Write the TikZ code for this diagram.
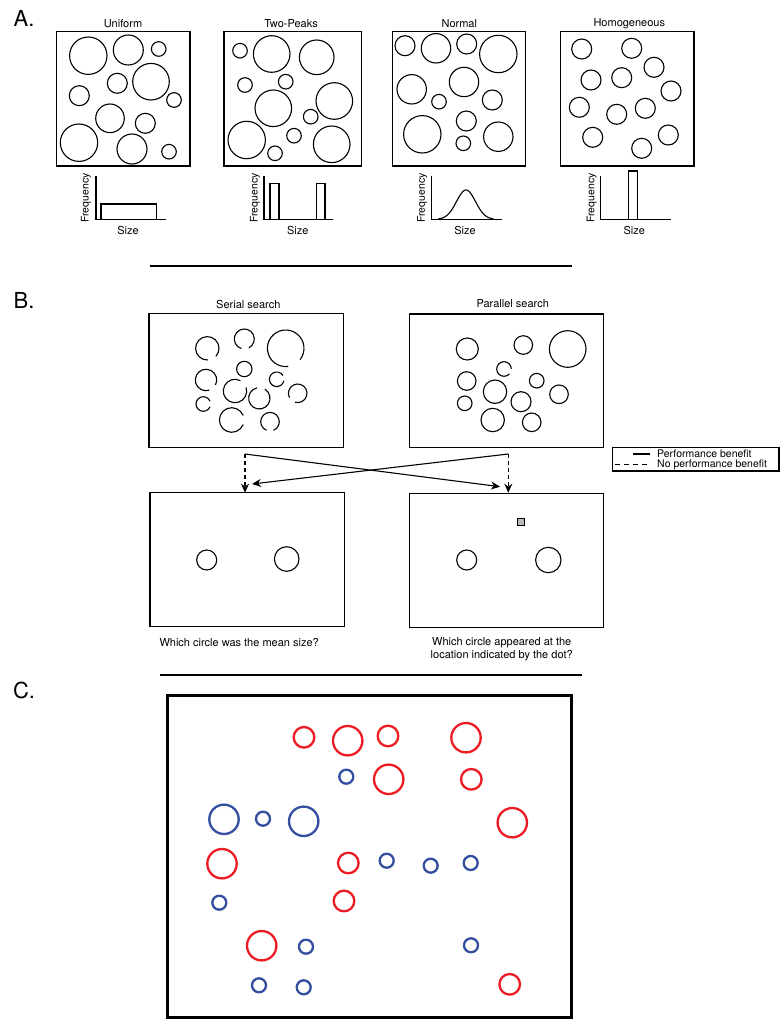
\documentclass[tikz,border=0pt]{standalone}
\usepackage{fontspec}
\setmainfont{TeX Gyre Heros}
\usetikzlibrary{arrows.meta}
\definecolor{cred}{RGB}{237,28,36}
\definecolor{cblue}{RGB}{52,78,160}
\newcommand\gapcirc[4]{\draw[ln] (#1,#2) ++({#4+22}:#3pt) arc[start angle={#4+22}, end angle={#4+338}, radius=#3pt];}
\begin{document}
\begin{tikzpicture}[x=1pt,y=-1pt,
  ln/.style={line width=1.1pt},
  ttl/.style={font=\fontsize{11}{13}\selectfont, inner sep=0pt},
  lgt/.style={font=\fontsize{10.5}{12}\selectfont, inner sep=0pt},
  lbl/.style={font=\fontsize{22}{26}\selectfont, inner sep=0pt},
  axl/.style={font=\fontsize{10.5}{12}\selectfont, inner sep=0pt},
  cr/.style={draw=cred, line width=2.3pt},
  cb/.style={draw=cblue, line width=2.3pt},
  arr/.style={line width=1.1pt, -{Stealth[length=9pt,width=8pt]}},
  darr/.style={arr, dash pattern=on 4pt off 3pt},
]
\useasboundingbox (0,0) rectangle (780,1019);
\fill[white] (0,0) rectangle (780,1019);

% ---------------- Panel A ----------------
\node[lbl] (labA) at (24,18) {A.};

% Uniform
\node[ttl] (tU) at (123,24) {Uniform};
\draw[ln] (56.7,31.7) rectangle (190,166);
\foreach \x/\y/\r in {88.3/55.7/18.7, 128.3/50/15, 158.7/49/7.3, 117.3/83.3/10, 151/81.7/18.3,
  79.3/95.7/10, 174/100/7.3, 110/118.3/14.3, 145.3/123.3/10, 79/142.7/18.7, 132/149/15, 169/151.7/7.3}
  \draw[ln] (\x,\y) circle[radius=\r pt];
\draw[ln] (96,176) -- (96,219.3) -- (165.7,219.3);
\draw[ln] (101,219.3) -- (101,204) -- (156.7,204) -- (156.7,219.3);
\node[axl, rotate=90] (fU) at (86,198) {Frequency};
\node[ttl] (sU) at (128,230.7) {Size};

% Two-Peaks
\node[ttl] (tT) at (291,24) {Two-Peaks};
\draw[ln] (224,31.7) rectangle (361.7,166);
\foreach \x/\y/\r in {240/50.7/7.3, 271.7/54/18.3, 316.7/57.3/17.3, 245/85/7.3, 285.7/81.7/7.3,
  334.3/101/18.3, 273.3/108.3/18.3, 310.7/116.7/7.3, 246.7/140/18.7, 294/135.7/7.3, 331.7/144.3/18.3, 275/153.3/7.3}
  \draw[ln] (\x,\y) circle[radius=\r pt];
\draw[ln] (264,176) -- (264,219.3) -- (333.3,219.3);
\draw[ln] (270,219.3) -- (270,183.3) -- (279,183.3) -- (279,219.3);
\draw[ln] (316.7,219.3) -- (316.7,183.3) -- (325,183.3) -- (325,219.3);
\node[axl, rotate=90] (fT) at (255,198) {Frequency};
\node[ttl] (sT) at (297.7,230.7) {Size};

% Normal
\node[ttl] (tN) at (459.3,24) {Normal};
\draw[ln] (392.7,31.7) rectangle (525.7,166);
\foreach \x/\y/\r in {405/45.7/10, 436/48.3/14.7, 466.7/44/10, 498.3/54/18.7, 411.7/89.3/14.7,
  464/82/14.7, 439/101.7/7.3, 492.3/100/10, 466.3/121/10, 422.3/134.3/18.7, 463.3/143.3/7.3, 498.3/136.7/14.7}
  \draw[ln] (\x,\y) circle[radius=\r pt];
\draw[ln] (431.7,176) -- (431.7,219.3) -- (501.7,219.3);
\draw[ln] plot[domain=438.3:493.3, samples=60, smooth] (\x, {219.3 - 29.3*exp(-((\x-466)^2)/(2*9.5*9.5))});
\node[axl, rotate=90] (fN) at (422.3,198) {Frequency};
\node[ttl] (sN) at (465,230.7) {Size};

% Homogeneous
\node[ttl] (tH) at (629.3,24) {Homogeneous};
\draw[ln] (560.7,31.7) rectangle (694,166);
\foreach \x/\y in {581.7/49, 631.7/48.3, 654/67.3, 591/80, 621.7/77.7, 671/91,
  579.3/107.3, 616.7/114.3, 645.3/108.3, 592.7/137.3, 668.3/135, 641.7/148.3}
  \draw[ln] (\x,\y) circle[radius=10pt];
\draw[ln] (600.7,176) -- (600.7,219.3) -- (670.7,219.3);
\draw[ln] (628.7,219.3) -- (628.7,171) -- (637.3,171) -- (637.3,219.3);
\node[axl, rotate=90] (fH) at (591.7,198) {Frequency};
\node[ttl] (sH) at (634.3,230.7) {Size};

\coordinate (sep1a) at (150,266);
\coordinate (sep1b) at (572,266);
\draw[ln] (sep1a) -- (sep1b);

% ---------------- Panel B ----------------
\node[lbl] (labB) at (24,300) {B.};

\node[ttl] (tS) at (248.3,304) {Serial search};
\draw[ln] (149,313.3) rectangle (343.7,447.3);
\gapcirc{207.3}{348.3}{11.7}{-65}
\gapcirc{244.3}{339}{10}{-85}
\gapcirc{285.7}{348.3}{18.3}{-60}
\draw[ln] (244.3,369) circle[radius=7.7pt];
\gapcirc{206}{380}{10.7}{-50}
\gapcirc{235}{391}{11.7}{40}
\gapcirc{276.7}{379.3}{7.3}{10}
\gapcirc{259.3}{398.3}{10.7}{80}
\gapcirc{297.7}{393.3}{9.3}{-130}
\gapcirc{203.3}{404}{7.3}{0}
\gapcirc{231.7}{420}{12.3}{0}
\gapcirc{270}{421.7}{9.3}{-90}

\node[ttl] (tP) at (512.7,304) {Parallel search};
\draw[ln] (409.3,314) rectangle (603.3,447.7);
\foreach \x/\y/\r in {467.3/349/11, 523.3/345/9.3, 567.7/349/18.3, 466.7/381/9.3, 536.7/380.7/7.3,
  495/391.7/11.7, 559/394.3/9.3, 521/401.7/10, 464.7/403.3/7.3, 492.7/420/11.7, 531.7/422.3/9.3}
  \draw[ln] (\x,\y) circle[radius=\r pt];
\gapcirc{504}{369}{7.3}{-20}

% legend
\draw[ln] (612.3,447.5) rectangle (779,471);
\coordinate (l1a) at (633,454); \coordinate (l1b) at (650,454);
\coordinate (l2a) at (615,464.5); \coordinate (l2b) at (650,464.5);
\draw[ln] (l1a) -- (l1b);
\draw[ln, dash pattern=on 5pt off 4pt] (l2a) -- (l2b);
\node[lgt, anchor=west] (leg1) at (657,453.5) {Performance benefit};
\node[lgt, anchor=west] (leg2) at (657,465) {No performance benefit};

% arrows
\coordinate (sL) at (245,454);
\coordinate (sR) at (508.3,454);
\coordinate (tL) at (245,492.7);
\coordinate (tR) at (508.3,492.7);
\coordinate (xL) at (252,484);
\coordinate (xR) at (500,486.7);
\draw[darr] (sL) -- (tL);
\draw[darr] (sR) -- (tR);
\draw[arr] (sL) -- (xR);
\draw[arr] (sR) -- (xL);

% bottom boxes
\draw[ln] (150,492.7) rectangle (344.3,626.7);
\draw[ln] (206.7,560) circle[radius=10pt];
\draw[ln] (286.7,559) circle[radius=12.3pt];
\node[ttl, anchor=west] (qL) at (159.3,642.7) {Which circle was the mean size?};

\draw[ln] (409.3,493.3) rectangle (603.3,627.3);
\draw[ln] (466.7,560) circle[radius=10pt];
\draw[ln] (548.3,560) circle[radius=12.7pt];
\draw[line width=0.9pt, fill=gray!55] (517.7,518.4) rectangle (524.3,525);
\node[ttl, align=center, font=\fontsize{11}{12.5}\selectfont] (qR) at (501.7,649) {Which circle appeared at the\\location indicated by the dot?};

\coordinate (sep2a) at (160,675);
\coordinate (sep2b) at (582,675);
\draw[ln] (sep2a) -- (sep2b);

% ---------------- Panel C ----------------
\node[lbl] (labC) at (24,690) {C.};
\draw[line width=3pt] (167.3,695) rectangle (571,1017.3);
\foreach \x/\y/\r in {304/737.3/10.3, 347.7/740.7/14.7, 388/736/10.3, 388.7/779.3/14.7, 222/863.7/14.7,
  348.3/863/10.3, 344/901/10.3, 261.7/945.7/14.7, 466/737.7/14.7, 471.3/779.3/10.3, 512.3/822.7/14.7, 509.7/984.3/10.3}
  \draw[cr] (\x,\y) circle[radius=\r pt];
\foreach \x/\y/\r in {346.3/776.7/7, 224/819.3/14.7, 263/818.7/7, 303.7/821.3/14.7, 386.7/860.7/7,
  219.3/902.7/7, 306/946.7/7, 259/985.3/7, 303.7/987.3/7, 430.7/865.7/7, 470.7/863/7, 471/945.3/7}
  \draw[cb] (\x,\y) circle[radius=\r pt];
\end{tikzpicture}
\end{document}
